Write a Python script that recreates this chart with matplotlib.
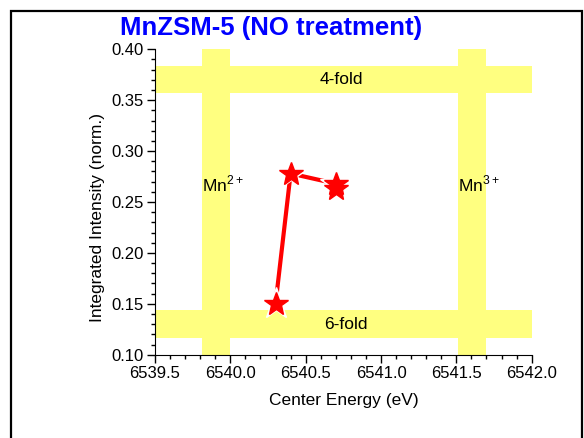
import matplotlib
matplotlib.use("Agg")
import matplotlib.pyplot as plt
from matplotlib.patches import Rectangle
from matplotlib.ticker import MultipleLocator, FormatStrFormatter

plt.rcParams['font.family'] = ['Liberation Sans', 'DejaVu Sans']
plt.rcParams['mathtext.fontset'] = 'custom'
plt.rcParams['mathtext.rm'] = 'Liberation Sans'

# Data
energy = [6540.30, 6540.40, 6540.70, 6540.70]
intensity = [0.150, 0.278, 0.268, 0.263]

# Reference bands (x ranges for Mn2+/Mn3+, y ranges for 6-fold/4-fold)
mn2_band = (6539.81, 6540.0)
mn3_band = (6541.51, 6541.70)
fold4_band = (0.357, 0.384)
fold6_band = (0.116, 0.144)
xlim = (6539.5, 6542.0)
ylim = (0.10, 0.40)

fig = plt.figure(figsize=(5.84, 4.38), dpi=100)
ax = fig.add_axes([0.2654, 0.1902, 0.6450, 0.6972])

band_color = '#ffff80'
ax.axvspan(*mn2_band, color=band_color, lw=0, zorder=0)
ax.axvspan(*mn3_band, color=band_color, lw=0, zorder=0)
ax.axhspan(*fold4_band, color=band_color, lw=0, zorder=0)
ax.axhspan(*fold6_band, color=band_color, lw=0, zorder=0)

ax.text(6540.74, sum(fold4_band) / 2, '4-fold', ha='center', va='center', fontsize=12.5)
ax.text(6540.77, sum(fold6_band) / 2, '6-fold', ha='center', va='center', fontsize=12.5)
ax.text(mn2_band[0], 0.268, r'Mn$^{\mathregular{2+}}$', ha='left', va='center', fontsize=12.5)
ax.text(mn3_band[0], 0.268, r'Mn$^{\mathregular{3+}}$', ha='left', va='center', fontsize=12.5)

ax.plot(energy, intensity, color='red', lw=3, zorder=2, solid_capstyle='butt')
ax.plot(energy, intensity, ls='none', marker='*', ms=24, color='white', zorder=3)
ax.plot(energy, intensity, ls='none', marker='*', ms=18, color='red', mec='red', zorder=4)

ax.set_xlim(*xlim)
ax.set_ylim(*ylim)
ax.xaxis.set_major_locator(MultipleLocator(0.5))
ax.xaxis.set_minor_locator(MultipleLocator(0.1))
ax.yaxis.set_major_locator(MultipleLocator(0.05))
ax.yaxis.set_minor_locator(MultipleLocator(0.01))
ax.xaxis.set_major_formatter(FormatStrFormatter('%.1f'))
ax.yaxis.set_major_formatter(FormatStrFormatter('%.2f'))
ax.tick_params(which='major', direction='out', length=6, width=1, labelsize=12, pad=2)
ax.tick_params(which='minor', direction='out', length=3, width=1)
for s in ['top', 'right']:
    ax.spines[s].set_visible(False)
ax.set_xlabel('Center Energy (eV)', fontsize=12.5, labelpad=9)
ax.set_ylabel('Integrated Intensity (norm.)', fontsize=12.5)
ax.yaxis.set_label_coords(-0.133, 0.45)

fig.text(0.464, 0.937, 'MnZSM-5 (NO treatment)', ha='center', va='center',
         fontsize=18.5, fontweight='bold', color='#0000ff')

border = Rectangle((11 / 584, -0.1), (582 - 11) / 584, 1.1 - 11 / 438 + 0.0,
                   transform=fig.transFigure, fill=False, lw=1.6, ec='black')
fig.add_artist(border)

fig.savefig('out.png', dpi=100)
